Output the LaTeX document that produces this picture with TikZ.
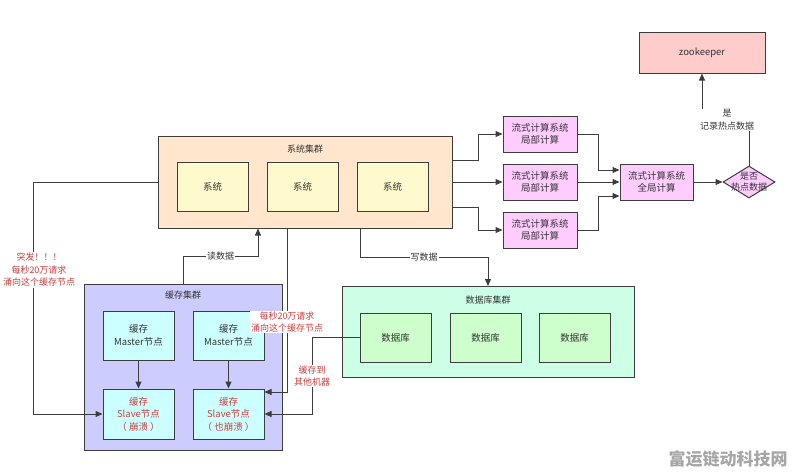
\documentclass[tikz,border=0pt]{standalone}
\usepackage{fontspec}
\setmainfont{Noto Sans CJK SC}
\usepackage{tikz}
\usetikzlibrary{positioning,arrows.meta,shapes.geometric}
\usepackage{xcolor}
\definecolor{linec}{HTML}{3D3D3D}
\definecolor{txt}{HTML}{333333}
\definecolor{alertred}{HTML}{C84040}
\definecolor{sysout}{HTML}{FFE6CC}
\definecolor{sysin}{HTML}{FFFACD}
\definecolor{cacheout}{HTML}{CCCCFF}
\definecolor{cachein}{HTML}{CCFFFF}
\definecolor{dbout}{HTML}{CCFFE6}
\definecolor{dbin}{HTML}{CCFFCC}
\definecolor{stream}{HTML}{FFCCFF}
\definecolor{zoo}{HTML}{FFCCCC}

\begin{document}
\begin{tikzpicture}[x=1pt, y=-1pt,
    cluster/.style={draw=linec, line width=1pt},
    box/.style={draw=linec, line width=1pt, minimum width=71pt, minimum height=49pt,
                align=center, font=\fontsize{9.5}{12.5}\selectfont, text=txt},
    smallbox/.style={box, minimum width=74pt, minimum height=36pt},
    title/.style={font=\fontsize{9}{11}\selectfont, text=txt},
    arrow/.style={-{Triangle[length=7pt,width=6pt]}, line width=1pt, draw=linec},
    note/.style={fill=white, inner sep=1pt, align=center,
                 font=\fontsize{9}{12.5}\selectfont, text=txt},
    alert/.style={note, text=alertred}
]
  \useasboundingbox (0,0) rectangle (796,474);

  % Clusters
  \node[cluster, fill=sysout, minimum width=294pt, minimum height=92pt] (syscl) at (305,182) {};
  \node[cluster, fill=cacheout, minimum width=198pt, minimum height=166pt] (cachecl) at (183,367) {};
  \node[cluster, fill=dbout, minimum width=292pt, minimum height=91pt] (dbcl) at (488,332) {};
  \node[title, below=6pt of syscl.north] (systitle) {系统集群};
  \node[title, below=4pt of cachecl.north] (cachetitle) {缓存集群};
  \node[title, below=6pt of dbcl.north] (dbtitle) {数据库集群};

  % System nodes
  \node[box, fill=sysin] (sys1) at (212.5,186.5) {系统};
  \node[box, fill=sysin, right=18pt of sys1] (sys2) {系统};
  \node[box, fill=sysin, right=18pt of sys2] (sys3) {系统};

  % Cache nodes
  \node[box, fill=cachein] (master1) at (138.5,335.5) {缓存\\Master节点};
  \node[box, fill=cachein, right=18pt of master1] (master2) {缓存\\Master节点};
  \node[box, fill=cachein, text=alertred, minimum height=50pt] (slave1) at (138.5,414) {缓存\\Slave节点\\（ 崩溃 ）};
  \node[box, fill=cachein, text=alertred, minimum height=50pt, right=18pt of slave1] (slave2) {缓存\\Slave节点\\（ 也崩溃 ）};

  % Database nodes
  \node[box, fill=dbin] (db1) at (395.5,337.5) {数据库};
  \node[box, fill=dbin, right=18pt of db1] (db2) {数据库};
  \node[box, fill=dbin, right=17pt of db2] (db3) {数据库};

  % Stream computing
  \node[smallbox, fill=stream] (str2) at (540,182) {流式计算系统\\局部计算};
  \node[smallbox, fill=stream, above=11pt of str2] (str1) {流式计算系统\\局部计算};
  \node[smallbox, fill=stream, below=11pt of str2] (str3) {流式计算系统\\局部计算};
  \node[smallbox, fill=stream, minimum width=73pt] (glob) at (656.5,182) {流式计算系统\\全局计算};
  \node[diamond, draw=linec, line width=1pt, fill=stream, inner sep=0pt,
        minimum width=52pt, minimum height=32pt] (dia) at (749,182) {};
  \node[font=\fontsize{9}{11}\selectfont, text=txt, align=center] (dialbl) at (dia.center) {是否\\热点数据};
  \node[box, fill=zoo, minimum width=126pt, minimum height=41pt] (zoo) at (702,52.5) {zookeeper};

  % Bend points
  \coordinate (lbend) at (33,414);
  \coordinate (rd) at (258,256);
  \coordinate (wrtop) at (360,228);
  \coordinate (wr) at (488,257);
  \coordinate (hottop) at (287,228);
  \coordinate (hot) at (287,392);
  \coordinate (cp) at (312,414);
  \coordinate (so1) at (452,160);
  \coordinate (so3) at (452,207);

  % Arrows
  \draw[arrow] (syscl.west) -| (lbend) -- (slave1.west);
  \draw[arrow] (cachecl.north) |- node[note, pos=0.75] (rdlbl) {读数据} (rd) -- (rd |- syscl.south);
  \draw[arrow] (wrtop) |- node[note, pos=0.75] (wrlbl) {写数据} (wr) -- (dbcl.north);
  \draw[arrow] (hottop) -- (hot) -- (hot -| slave2.east);
  \draw[arrow] (db1.west) -| (cp) -- (slave2.east);
  \draw[arrow] (master1) -- (slave1);
  \draw[arrow] (master2) -- (slave2);
  \draw[arrow] (so1) -- ++(26,0) |- (str1.west);
  \draw[arrow] (syscl.east) -- (str2.west);
  \draw[arrow] (so3) -- ++(26,0) |- (str3.west);
  \draw[arrow] (str1.east) -- ++(21,0) |- ([yshift=12pt]glob.west);
  \draw[arrow] (str2.east) -- (glob.west);
  \draw[arrow] (str3.east) -- ++(21,0) |- ([yshift=-14pt]glob.west);
  \draw[arrow] (glob.east) -- (dia.west);
  \draw[arrow] (dia.north) -- ++(0,-46) -| (zoo.south);

  % Labels
  \node[alert] (burst) at (39,270) {突发！！！\\每秒20万请求\\涌向这个缓存节点};
  \node[alert] (flood) at (287,322) {每秒20万请求\\涌向这个缓存节点};
  \node[alert] (copy) at (312,376) {缓存到\\其他机器};
  \node[note] (hotlbl) at (727,120) {是\\记录热点数据};
  \node[font=\fontsize{17}{17}\selectfont\bfseries, text=black!35] (wmark) at (728,459) {富运链动科技网};
\end{tikzpicture}
\end{document}
